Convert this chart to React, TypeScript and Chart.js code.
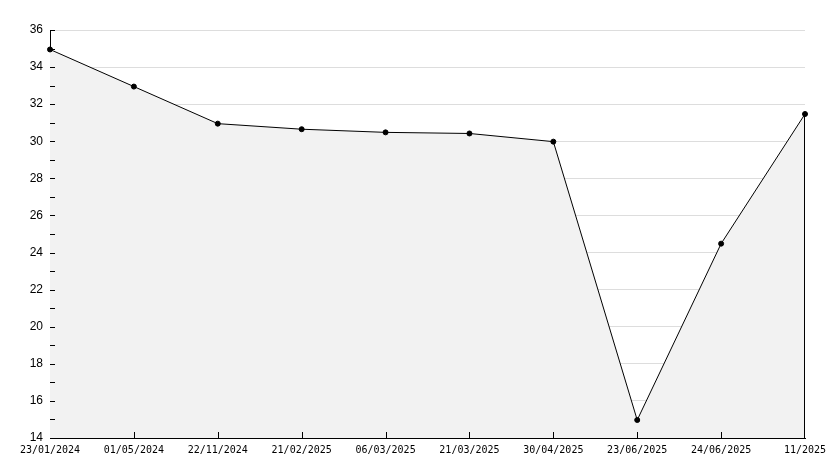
import React, { useEffect, useRef } from "react";
import { Chart, registerables } from "chart.js";

Chart.register(...registerables);

const categories = [
  "23/01/2024",
  "01/05/2024",
  "22/11/2024",
  "21/02/2025",
  "06/03/2025",
  "21/03/2025",
  "30/04/2025",
  "23/06/2025",
  "24/06/2025",
  "11/2025",
];
const values = [34.95, 32.95, 30.95, 30.65, 30.48, 30.42, 29.98, 14.97, 24.48, 31.47];
const yMin = 14;
const yMax = 36;

const inwardTicks = {
  id: "inwardTicks",
  afterDatasetsDraw(chart: any) {
    const { ctx, chartArea, scales } = chart;
    const y = scales.y;
    const x = scales.x;
    ctx.save();
    ctx.strokeStyle = "#000";
    ctx.lineWidth = 1;
    ctx.beginPath();
    for (let v = yMin; v <= yMax; v += 1) {
      const py = Math.round(y.getPixelForValue(v)) + 0.5;
      ctx.moveTo(chartArea.left, py);
      ctx.lineTo(chartArea.left + 5, py);
    }
    for (let i = 1; i < categories.length - 1; i++) {
      const px = Math.round(x.getPixelForValue(i)) + 0.5;
      ctx.moveTo(px, chartArea.bottom);
      ctx.lineTo(px, chartArea.bottom - 6);
    }
    const last = values.length - 1;
    const lx = Math.round(x.getPixelForValue(last)) - 0.5;
    ctx.moveTo(lx, y.getPixelForValue(values[last]));
    ctx.lineTo(lx, chartArea.bottom);
    ctx.stroke();
    ctx.restore();
  },
};

export default function App() {
  const ref = useRef<HTMLCanvasElement>(null);
  useEffect(() => {
    if (!ref.current) return;
    const chart = new Chart(ref.current, {
      type: "line",
      data: {
        labels: categories,
        datasets: [
          {
            data: values,
            borderColor: "#000",
            borderWidth: 1,
            backgroundColor: "#f2f2f2",
            fill: "start",
            tension: 0,
            pointRadius: 2.5,
            pointBackgroundColor: "#000",
            pointBorderColor: "#000",
            pointBorderWidth: 1,
            clip: false as any,
          },
        ],
      },
      options: {
        animation: false,
        responsive: false,
        devicePixelRatio: 1,
        layout: { padding: { top: 30, right: 29, left: 0, bottom: 9 } },
        plugins: { legend: { display: false }, tooltip: { enabled: false } },
        scales: {
          x: {
            grid: { display: false, drawTicks: false },
            border: { display: true, color: "#000", width: 1 },
            ticks: {
              autoSkip: false,
              maxRotation: 0,
              minRotation: 0,
              padding: 6,
              color: "#000",
              font: { family: "'DejaVu Sans Mono'", size: 10 },
            },
            afterFit(scale: any) {
              scale.height = 21;
            },
          },
          y: {
            min: yMin,
            max: yMax,
            grid: {
              drawTicks: false,
              color: (c: any) =>
                c.tick && c.tick.value % 2 === 0 ? "#dddddd" : "rgba(0,0,0,0)",
            },
            border: { display: true, color: "#000", width: 1 },
            ticks: {
              stepSize: 1,
              padding: 7,
              color: "#000",
              font: { family: "'Liberation Sans'", size: 12 },
              callback: (v: any) => (Number(v) % 2 === 0 ? String(v) : ""),
            },
            afterFit(scale: any) {
              scale.width = 50;
            },
          },
        },
      },
      plugins: [inwardTicks],
    });
    return () => chart.destroy();
  }, []);
  return (
    <div style={{ position: "absolute", left: 0, top: 0, width: 834, height: 468 }}>
      <canvas ref={ref} width={834} height={468} />
    </div>
  );
}
